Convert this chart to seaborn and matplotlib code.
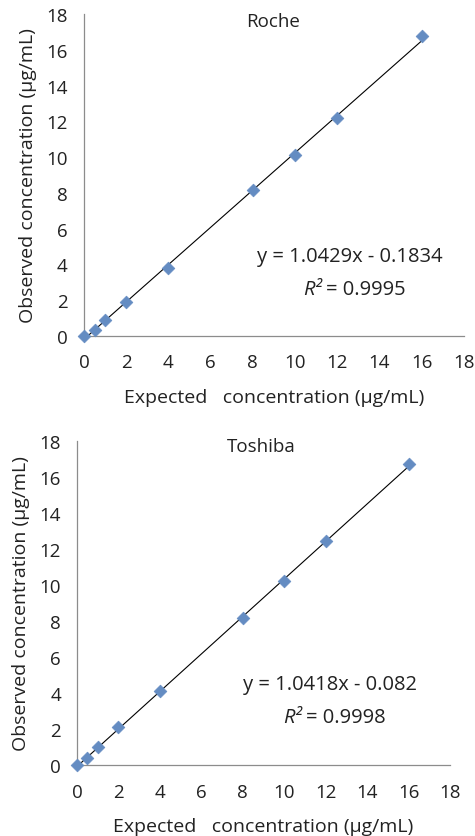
import numpy as np
import pandas as pd
import seaborn as sns
import matplotlib.pyplot as plt

# expected concentrations (µg/mL)
expected = [0, 0.5, 1, 2, 4, 8, 10, 12, 16]

roche_obs = [0.0, 0.35, 0.89, 1.9, 3.8, 8.15, 10.1, 12.2, 16.75]
toshiba_obs = [0.0, 0.39, 0.98, 2.1, 4.13, 8.15, 10.25, 12.42, 16.75]

# trendline info shown on the chart
names = ["Roche", "Toshiba"]
slopes = [1.0429, 1.0418]
intercepts = [-0.1834, -0.082]
eq_text = ["y = 1.0429x - 0.1834", "y = 1.0418x - 0.082"]
r2_text = ["0.9995", "0.9998"]

ticks = list(range(0, 19, 2))

sns.set_theme(style="white")
plt.rcParams["font.family"] = ["Open Sans", "DejaVu Sans"]

fig = plt.figure(figsize=(4.75, 8.37), dpi=100)
ax_top = fig.add_axes([0.1768, 0.5974, 0.80, 0.3847])
ax_bot = fig.add_axes([0.1621, 0.0848, 0.7853, 0.3871])

panels = [
    (ax_top, roche_obs, (8.95, 17.6), (12.6, 4.45), (12.7, 2.6)),
    (ax_bot, toshiba_obs, (8.9, 17.7), (12.2, 4.5), (12.3, 2.65)),
]

txt = "#222222"

for i, (ax, obs, name_pos, eq_pos, r2_pos) in enumerate(panels):
    df = pd.DataFrame({"expected": expected, "observed": obs})
    fit = pd.DataFrame({"expected": [min(expected), max(expected)]})
    fit["observed"] = slopes[i] * fit["expected"] + intercepts[i]

    sns.lineplot(data=fit, x="expected", y="observed", ax=ax,
                 color="black", linewidth=0.8, zorder=2)
    sns.scatterplot(data=df, x="expected", y="observed", ax=ax,
                    marker="D", s=42, color="#648cc2", edgecolor="#648cc2",
                    linewidth=0.5, zorder=3, clip_on=False)

    ax.set_xlim(0, 18)
    ax.set_ylim(0, 18)
    ax.set_xticks(ticks)
    ax.set_yticks(ticks)
    ax.tick_params(axis="both", which="both", direction="out", length=3.6,
                   width=0.8, color="#8c8c8c", labelsize=13.5,
                   labelcolor=txt)
    ax.tick_params(axis="x", pad=9)
    ax.tick_params(axis="y", pad=8)
    for side in ["top", "right"]:
        ax.spines[side].set_visible(False)
    for side in ["left", "bottom"]:
        ax.spines[side].set_color("#8c8c8c")
        ax.spines[side].set_linewidth(0.9)

    ax.set_xlabel("Expected   concentration (µg/mL)", fontsize=14,
                  color=txt, labelpad=12)
    ax.set_ylabel("Observed concentration (µg/mL)", fontsize=14,
                  color=txt, labelpad=7)

    ax.text(*name_pos, names[i], ha="center", va="center", fontsize=13.5,
            color=txt)
    ax.text(*eq_pos, eq_text[i], ha="center", va="center", fontsize=14.5,
            color=txt)
    ax.text(r2_pos[0] - 1.9, r2_pos[1], "R²", ha="center", va="center",
            fontsize=14.5, style="italic", color=txt)
    ax.text(r2_pos[0] + 0.65, r2_pos[1], "= " + r2_text[i], ha="center",
            va="center", fontsize=14.5, color=txt)

fig.savefig("out.png", dpi=100, facecolor="white")
